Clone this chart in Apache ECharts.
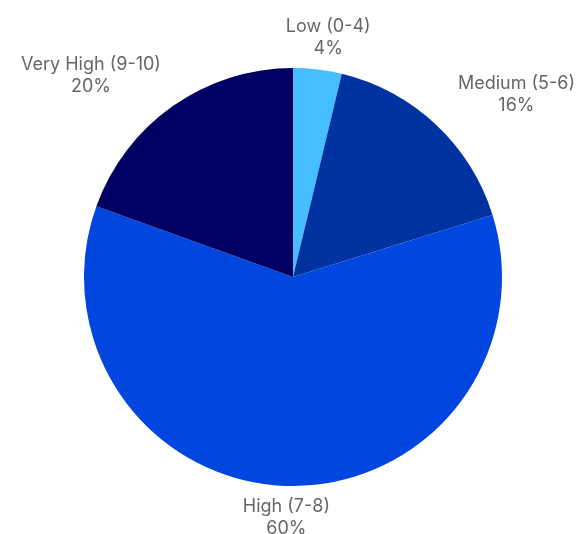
<!DOCTYPE html>
<html>
<head>
<meta charset="utf-8">
<script src="https://cdn.jsdelivr.net/npm/echarts@6/dist/echarts.min.js"></script>
<style>
  html, body { margin: 0; padding: 0; background: #fff; }
  #chart { width: 577px; height: 534px; }
</style>
</head>
<body>
<div id="chart"></div>
<script>
const categories = ['Low (0-4)', 'Medium (5-6)', 'High (7-8)', 'Very High (9-10)']
// shares; labels show them rounded
const shares = [3.75, 16.45, 60.3, 19.5]
const colors = ['#44beff', '#0033a0', '#0046df', '#010062']

const cx = 293
const cy = 277
const radius = 209
const offset = 8
const total = shares.reduce((a, b) => a + b, 0)

// put each label just outside its slice, pushed along the mid-angle
function placeLabel(params) {
  const i = params.dataIndex
  let before = 0
  for (let k = 0; k < i; k++) before += shares[k]
  const mid = (before + shares[i] / 2) / total * Math.PI * 2
  const vx = Math.sin(mid)
  const vy = -Math.cos(mid)
  const px = cx + radius * vx
  const py = cy + radius * vy
  const tw = params.labelRect.width
  const w = tw + 80
  const h = params.labelRect.height + 4
  const vs = 1 / Math.max(Math.abs(vx), Math.abs(vy))
  let x = px + vx * vs * w / 2 + offset * vx
  const y = py + vy * vs * h / 2 + offset * vy
  x = Math.min(Math.max(x, tw / 2 + 2), 577 - tw / 2 - 2)
  return { x: x, y: y, align: 'center', verticalAlign: 'middle' }
}

const chart = echarts.init(document.getElementById('chart'))
chart.setOption({
  animation: false,
  series: [{
    type: 'pie',
    center: [cx, cy],
    radius: radius,
    startAngle: 90,
    clockwise: true,
    data: categories.map((name, i) => ({
      name: name,
      value: shares[i],
      itemStyle: { color: colors[i] },
    })),
    label: {
      show: true,
      position: 'outside',
      formatter: p => p.name + '\n' + Math.round(p.value) + '%',
      fontFamily: 'Inter',
      fontSize: 18,
      lineHeight: 22,
      color: '#666',
      align: 'center',
      overflow: 'none',
    },
    labelLine: { show: false },
    labelLayout: placeLabel,
    emphasis: { disabled: true },
  }],
})
</script>
</body>
</html>
